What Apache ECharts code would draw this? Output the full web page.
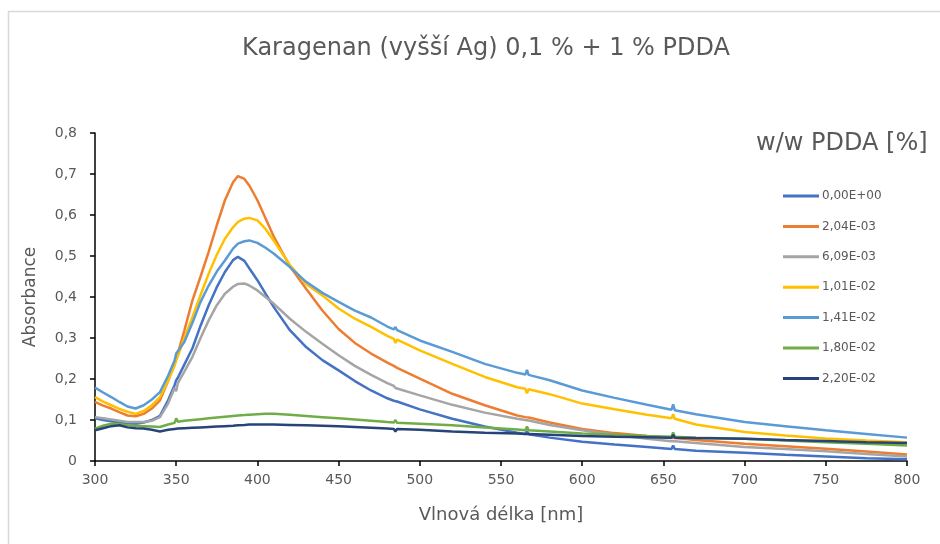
<!DOCTYPE html>
<html>
<head>
<meta charset="utf-8">
<script src="https://cdn.jsdelivr.net/npm/echarts@6/dist/echarts.min.js"></script>
<style>
html,body{margin:0;padding:0;background:#fff;}
#chart{width:940px;height:544px;}
</style>
</head>
<body>
<div id="chart"></div>
<script>
const wavelengths = [300,305,310,315,320,325,330,335,340,345,349,350,351,355,360,365,370,375,380,385,388,392,395,400,405,410,420,430,440,450,460,470,480,484,485,486,500,520,540,560,565,566,567,580,600,620,640,655,656,657,670,700,725,750,775,800];

const seriesNames = ["0,00E+00","2,04E-03","6,09E-03","1,01E-02","1,41E-02","1,80E-02","2,20E-02"];

const s0 = [0.104,0.100,0.097,0.094,0.092,0.091,0.094,0.100,0.110,0.148,0.185,0.197,0.203,0.235,0.275,0.330,0.380,0.424,0.461,0.490,0.498,0.488,0.470,0.441,0.408,0.376,0.319,0.278,0.246,0.221,0.195,0.172,0.153,0.147,0.150,0.145,0.126,0.103,0.084,0.069,0.066,0.073,0.065,0.057,0.047,0.040,0.034,0.029,0.038,0.029,0.025,0.020,0.015,0.011,0.007,0.004];
const s1 = [0.144,0.135,0.128,0.119,0.111,0.109,0.115,0.128,0.148,0.195,0.240,0.254,0.262,0.318,0.392,0.450,0.510,0.575,0.636,0.680,0.695,0.688,0.672,0.636,0.592,0.548,0.475,0.420,0.367,0.322,0.288,0.262,0.240,0.232,0.229,0.227,0.201,0.164,0.136,0.111,0.107,0.109,0.106,0.094,0.078,0.068,0.061,0.056,0.058,0.056,0.051,0.042,0.036,0.030,0.023,0.016];
const s2 = [0.107,0.104,0.101,0.098,0.095,0.095,0.095,0.098,0.107,0.140,0.178,0.170,0.190,0.218,0.254,0.300,0.343,0.380,0.408,0.425,0.432,0.433,0.428,0.416,0.400,0.384,0.347,0.315,0.286,0.258,0.232,0.210,0.190,0.183,0.178,0.181,0.160,0.137,0.118,0.103,0.100,0.096,0.099,0.088,0.075,0.064,0.054,0.048,0.052,0.048,0.044,0.034,0.029,0.024,0.017,0.011];
const s3 = [0.156,0.145,0.136,0.127,0.120,0.115,0.122,0.136,0.156,0.195,0.232,0.246,0.255,0.300,0.351,0.405,0.457,0.503,0.542,0.570,0.583,0.591,0.593,0.587,0.566,0.538,0.478,0.432,0.404,0.372,0.347,0.327,0.305,0.298,0.288,0.296,0.270,0.237,0.205,0.180,0.176,0.165,0.175,0.163,0.140,0.126,0.113,0.104,0.114,0.103,0.089,0.071,0.062,0.055,0.050,0.046];
const s4 = [0.179,0.167,0.156,0.144,0.133,0.128,0.136,0.150,0.168,0.208,0.245,0.262,0.258,0.290,0.337,0.388,0.428,0.462,0.489,0.518,0.530,0.536,0.538,0.532,0.520,0.506,0.473,0.437,0.410,0.388,0.367,0.350,0.328,0.321,0.327,0.319,0.294,0.266,0.237,0.215,0.211,0.222,0.210,0.197,0.172,0.154,0.137,0.125,0.138,0.124,0.114,0.095,0.085,0.075,0.066,0.057];
const s5 = [0.079,0.086,0.091,0.090,0.087,0.086,0.085,0.084,0.083,0.089,0.093,0.104,0.096,0.098,0.100,0.102,0.104,0.106,0.108,0.110,0.111,0.112,0.113,0.114,0.115,0.115,0.113,0.110,0.107,0.104,0.101,0.098,0.095,0.094,0.100,0.093,0.091,0.087,0.082,0.077,0.075,0.084,0.075,0.072,0.067,0.064,0.061,0.059,0.070,0.059,0.057,0.054,0.050,0.046,0.042,0.038];
const s6 = [0.075,0.080,0.085,0.087,0.082,0.080,0.079,0.076,0.072,0.076,0.078,0.079,0.079,0.080,0.081,0.082,0.083,0.084,0.085,0.086,0.087,0.088,0.089,0.089,0.089,0.089,0.088,0.087,0.086,0.085,0.083,0.081,0.079,0.078,0.072,0.078,0.076,0.072,0.069,0.067,0.066,0.070,0.066,0.064,0.061,0.059,0.058,0.057,0.064,0.057,0.056,0.054,0.051,0.049,0.046,0.044];

const allValues = [s0,s1,s2,s3,s4,s5,s6];
const colors = ["#4472C4","#ED7D31","#A5A5A5","#FFC000","#5B9BD5","#70AD47","#264478"];

const FONT = "'DejaVu Sans', 'Noto Sans', sans-serif";
const chart = echarts.init(document.getElementById('chart'), null, {renderer:'canvas'});

const series = allValues.map((vals, k) => ({
  name: seriesNames[k],
  type: 'line',
  data: wavelengths.map((w, i) => [w, vals[i]]),
  symbol: 'none',
  showSymbol: false,
  smooth: false,
  lineStyle: { color: colors[k], width: 2.5 },
  itemStyle: { color: colors[k] },
  emphasis: { disabled: true },
  animation: false,
  z: 2 + k
}));

chart.setOption({
  animation: false,
  backgroundColor: '#fff',
  title: [
    { text: 'Karagenan (vyšší Ag) 0,1 % + 1 % PDDA', left: 481, top: 32, textAlign: 'center',
      textStyle: { fontFamily: FONT, fontSize: 24, fontWeight: 'normal', color: '#595959' } },
    { text: 'w/w PDDA [%]', left: 751, top: 127,
      textStyle: { fontFamily: FONT, fontSize: 24, fontWeight: 'normal', color: '#595959' } }
  ],
  graphic: [
    { type: 'rect', shape: { x: 8.5, y: 11.5, width: 960, height: 560 },
      style: { fill: 'none', stroke: '#d9d9d9', lineWidth: 1.5 }, silent: true }
  ],
  legend: {
    orient: 'vertical',
    left: 778,
    top: 182,
    itemWidth: 36,
    itemHeight: 3,
    itemGap: 12.4,
    icon: 'rect',
    data: seriesNames,
    textStyle: { fontFamily: FONT, fontSize: 12, color: '#595959', lineHeight: 18, padding: [0,0,0,-2] }
  },
  grid: { left: 95, right: 33, top: 133, bottom: 83, containLabel: false },
  xAxis: {
    type: 'value', min: 300, max: 800, interval: 50,
    name: 'Vlnová délka [nm]', nameLocation: 'middle', nameGap: 45,
    nameTextStyle: { fontFamily: FONT, fontSize: 18, color: '#595959' },
    axisLine: { show: true, onZero: false, lineStyle: { color: '#000', width: 1.5 } },
    axisTick: { show: true, inside: false, length: 5, lineStyle: { color: '#000', width: 1.5 } },
    axisLabel: { margin: 12, fontFamily: FONT, fontSize: 14, color: '#595959' },
    splitLine: { show: false }
  },
  yAxis: {
    type: 'value', min: 0, max: 0.8, interval: 0.1,
    name: 'Absorbance', nameLocation: 'middle', nameGap: 56, nameRotate: 90,
    nameTextStyle: { fontFamily: FONT, fontSize: 17, color: '#595959' },
    axisLine: { show: true, lineStyle: { color: '#000', width: 1.5 } },
    axisTick: { show: true, inside: false, length: 5, lineStyle: { color: '#000', width: 1.5 } },
    axisLabel: { margin: 18, fontFamily: FONT, fontSize: 14, color: '#595959',
      formatter: v => (Math.round(v*10)/10).toString().replace('.', ',') },
    splitLine: { show: false }
  },
  series: series
});
</script>
</body>
</html>
